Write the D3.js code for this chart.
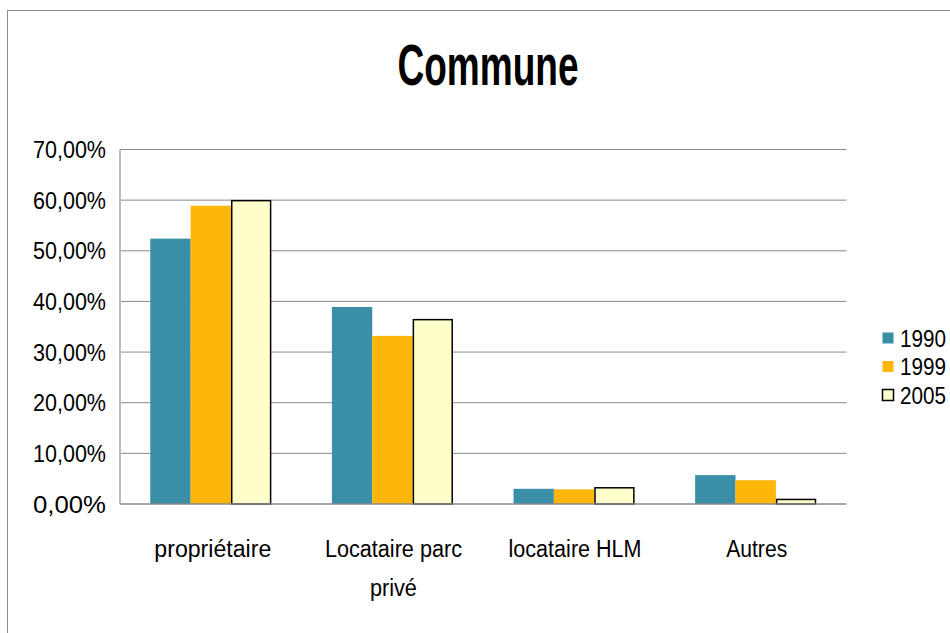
<!DOCTYPE html>
<html><head><meta charset="utf-8">
<script src="https://cdn.jsdelivr.net/npm/d3@7"></script>
<style>body{margin:0;background:#fff}svg{display:block}text{font-family:"Liberation Sans Narrow","Liberation Sans",Arial,sans-serif}</style>
</head><body>
<script>
const categories = [["propriétaire"], ["Locataire parc", "privé"], ["locataire HLM"], ["Autres"]];
const series = ["1990", "1999", "2005"];
const v1990 = [52.4, 38.9, 3.0, 5.7];
const v1999 = [58.9, 33.2, 2.9, 4.7];
const v2005 = [59.9, 36.4, 3.2, 0.9];
const yTicks = [0, 10, 20, 30, 40, 50, 60, 70];
const colors = ["#3A8FA6", "#FFB60A", "#FFFFCC"];
const values = [v1990, v1999, v2005];

const W = 950, H = 633;
const svg = d3.select("body").append("svg").attr("width", W).attr("height", H);
svg.append("rect").attr("x", 7.5).attr("y", 10.5).attr("width", 1000).attr("height", 700)
  .attr("fill", "none").attr("stroke", "#8c8c8c").attr("stroke-width", 1);

const L = 120, R = 846.5, T = 149.5, B = 504;
const x = d3.scaleBand().domain(d3.range(categories.length)).range([L, R]).padding(0);
const y = d3.scaleLinear().domain([0, 70]).range([B, T]);
const bw = x.bandwidth() / (3 + 1.5);

svg.append("g").selectAll("line").data(yTicks.filter(d => d > 0)).join("line")
  .attr("x1", L).attr("x2", R).attr("y1", d => y(d)).attr("y2", d => y(d))
  .attr("stroke", "#8a8a8a").attr("stroke-width", 1);

const fmt = d => d3.format(".2f")(d).replace(".", ",") + "%";
svg.append("g").selectAll("text").data(yTicks).join("text")
  .attr("x", 106).attr("y", d => y(d) + 8.5)
  .attr("text-anchor", "end").attr("font-size", 23).attr("fill", "#000")
  .attr("textLength", 73).attr("lengthAdjust", "spacingAndGlyphs")
  .text(fmt);

series.forEach((s, si) => {
  svg.append("g").selectAll("rect").data(values[si]).join("rect")
    .attr("x", (d, i) => x(i) + 0.75 * bw + si * bw + (si === 2 ? 0.75 : 0))
    .attr("width", si === 2 ? bw - 1.5 : bw)
    .attr("y", d => y(d))
    .attr("height", d => B - y(d))
    .attr("fill", colors[si])
    .attr("stroke", si === 2 ? "#000" : "none")
    .attr("stroke-width", si === 2 ? 1.5 : 0);
});

svg.append("line").attr("x1", L).attr("x2", L).attr("y1", T).attr("y2", B)
  .attr("stroke", "#bdbdbd").attr("stroke-width", 2);
svg.append("line").attr("x1", L).attr("x2", R).attr("y1", B).attr("y2", B)
  .attr("stroke", "#8a8a8a").attr("stroke-width", 1.5);

const catW = [[117], [137, 47], [133], [61]];
categories.forEach((lines, i) => {
  lines.forEach((t, li) => {
    svg.append("text").attr("x", x(i) + x.bandwidth() / 2 + (i === 0 ? 2 : 1)).attr("y", 557 + li * 39)
      .attr("text-anchor", "middle").attr("font-size", 23)
      .attr("textLength", catW[i][li]).attr("lengthAdjust", "spacingAndGlyphs")
      .text(t);
  });
});

svg.append("text").attr("x", 488).attr("y", 85).attr("text-anchor", "middle")
  .attr("font-size", 58).attr("font-weight", "bold")
  .attr("textLength", 181).attr("lengthAdjust", "spacingAndGlyphs")
  .text("Commune");

const lg = svg.append("g");
series.forEach((s, i) => {
  const cy = 338 + i * 28.5;
  lg.append("rect").attr("x", 882.5).attr("y", cy - 5.5).attr("width", 11).attr("height", 11)
    .attr("fill", colors[i]).attr("stroke", i === 2 ? "#000" : "none").attr("stroke-width", i === 2 ? 1.5 : 0);
  lg.append("text").attr("x", 900).attr("y", cy + 8.5).attr("font-size", 23)
    .attr("textLength", 46).attr("lengthAdjust", "spacingAndGlyphs").text(s);
});
</script>
</body></html>
